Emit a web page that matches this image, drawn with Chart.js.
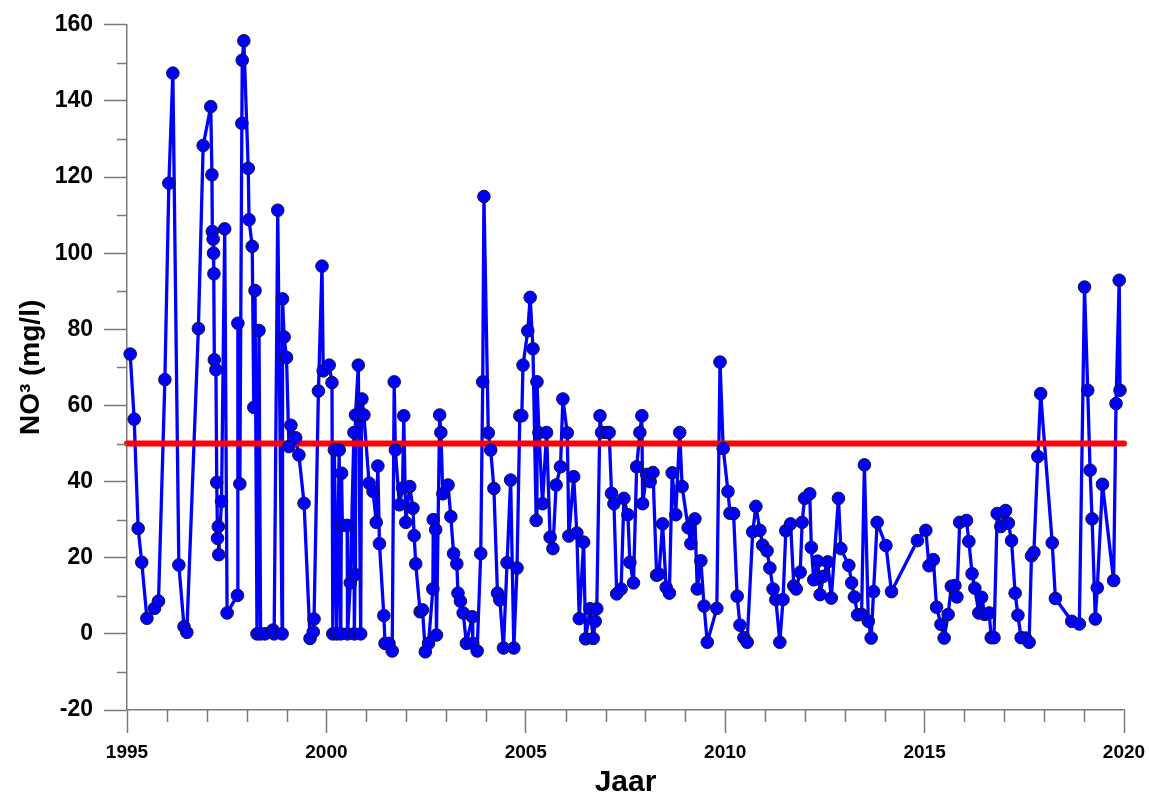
<!DOCTYPE html>
<html>
<head>
<meta charset="utf-8">
<script src="https://cdn.jsdelivr.net/npm/chart.js@4.4.1/dist/chart.umd.min.js"></script>
<style>
  html, body { margin: 0; padding: 0; background: #ffffff; }
  #wrap { width: 1149px; height: 801px; }
</style>
</head>
<body>
<div id="wrap"><canvas id="c" width="1149" height="801"></canvas></div>
<script>
// Sampling dates (decimal years) and measured nitrate (mg/l)
const sampleYears = [
  1995.08, 1995.18, 1995.28, 1995.37, 1995.50, 1995.69, 1995.79, 1995.95,
  1996.05, 1996.15, 1996.30, 1996.43, 1996.50, 1996.79, 1996.91,
  1997.10, 1997.13, 1997.14, 1997.16, 1997.17, 1997.18, 1997.19, 1997.23,
  1997.25, 1997.27, 1997.29, 1997.30, 1997.37, 1997.45, 1997.51, 1997.77,
  1997.78, 1997.83, 1997.88, 1997.89, 1997.93,
  1998.04, 1998.06, 1998.14, 1998.18, 1998.21, 1998.26, 1998.31, 1998.35,
  1998.46, 1998.66, 1998.69, 1998.78, 1998.89, 1998.90, 1998.94,
  1999.00, 1999.06, 1999.11, 1999.23, 1999.31, 1999.44, 1999.59, 1999.67,
  1999.69, 1999.80, 1999.89, 1999.92,
  2000.07, 2000.14, 2000.16, 2000.20, 2000.26, 2000.32, 2000.36, 2000.38,
  2000.40, 2000.52, 2000.53, 2000.60, 2000.69, 2000.70, 2000.72, 2000.73,
  2000.80, 2000.86, 2000.88, 2000.89, 2000.94,
  2001.07, 2001.17, 2001.25, 2001.29, 2001.33, 2001.44, 2001.47, 2001.57,
  2001.65, 2001.70, 2001.73, 2001.83, 2001.91, 2001.94, 2001.99,
  2002.09, 2002.17, 2002.20, 2002.24, 2002.35, 2002.41, 2002.48, 2002.56,
  2002.67, 2002.68, 2002.74, 2002.76, 2002.84, 2002.87, 2002.92,
  2003.05, 2003.12, 2003.19, 2003.27, 2003.30, 2003.36, 2003.43, 2003.51,
  2003.66, 2003.67, 2003.78, 2003.87, 2003.92, 2003.95,
  2004.06, 2004.12, 2004.20, 2004.29, 2004.35, 2004.44, 2004.53, 2004.62,
  2004.70, 2004.78, 2004.85, 2004.90, 2004.93,
  2005.05, 2005.11, 2005.18, 2005.26, 2005.28, 2005.33, 2005.42, 2005.52,
  2005.61, 2005.68, 2005.76, 2005.87, 2005.93,
  2006.04, 2006.08, 2006.20, 2006.28, 2006.34, 2006.45, 2006.50, 2006.61,
  2006.69, 2006.74, 2006.78, 2006.86, 2006.90,
  2007.03, 2007.09, 2007.15, 2007.21, 2007.28, 2007.39, 2007.46, 2007.56,
  2007.61, 2007.70, 2007.78, 2007.86, 2007.91, 2007.93,
  2008.03, 2008.12, 2008.19, 2008.28, 2008.34, 2008.43, 2008.52, 2008.60,
  2008.67, 2008.76, 2008.86, 2008.92,
  2009.07, 2009.14, 2009.24, 2009.30, 2009.39, 2009.47, 2009.55, 2009.79,
  2009.87, 2009.95,
  2010.07, 2010.12, 2010.21, 2010.30, 2010.37, 2010.47, 2010.55, 2010.69,
  2010.77, 2010.87, 2010.94,
  2011.05, 2011.12, 2011.20, 2011.27, 2011.37, 2011.45, 2011.52, 2011.64,
  2011.72, 2011.78, 2011.88, 2011.93, 2011.99,
  2012.12, 2012.16, 2012.22, 2012.32, 2012.38, 2012.46, 2012.57, 2012.66,
  2012.84, 2012.90,
  2013.10, 2013.17, 2013.24, 2013.32, 2013.42, 2013.49, 2013.59, 2013.66,
  2013.72, 2013.81,
  2014.03, 2014.17, 2014.82,
  2015.03, 2015.11, 2015.22, 2015.30, 2015.41, 2015.49, 2015.59, 2015.67,
  2015.76, 2015.81, 2015.88,
  2016.05, 2016.11, 2016.19, 2016.26, 2016.36, 2016.43, 2016.51, 2016.62,
  2016.67, 2016.74, 2016.82, 2016.91,
  2017.03, 2017.10, 2017.18, 2017.27, 2017.34, 2017.42, 2017.53, 2017.62,
  2017.68, 2017.74, 2017.84, 2017.91,
  2018.20, 2018.28, 2018.69, 2018.88,
  2019.01, 2019.09, 2019.15, 2019.20, 2019.28, 2019.33, 2019.46, 2019.74,
  2019.80, 2019.88, 2019.90
];

const no3Values = [
  73.5, 56.4, 27.7, 18.8, 4.1, 6.7, 8.6, 66.8,
  118.4, 147.3, 18.1, 1.9, 0.4, 80.2, 128.3,
  138.5, 120.6, 105.7, 103.7, 100.0, 94.6, 72.0, 69.4,
  39.8, 25.1, 28.2, 20.8, 34.8, 106.4, 5.5, 10.1,
  81.6, 39.4, 134.1, 150.7, 155.8,
  122.3, 108.8, 101.8, 59.5, 90.2, 0.0, 79.7, 0.0,
  0.0, 1.0, 0.0, 111.3, 0.0, 88.0, 78.0,
  72.6, 49.2, 54.8, 51.5, 47.0, 34.3, -1.2, 0.5,
  3.9, 63.8, 96.6, 69.1,
  70.6, 66.0, 0.0, 48.3, 0.0, 48.3, 0.0, 42.2,
  28.5, 28.5, 0.0, 13.4, 52.9, 0.0, 15.6, 57.5,
  70.6, 0.0, 57.5, 61.7, 57.5,
  39.6, 37.4, 29.3, 44.1, 23.7, 4.8, -2.5, -2.5,
  -4.5, 66.2, 48.3, 33.9, 38.3, 57.3, 29.3,
  38.7, 33.0, 25.8, 18.4, 5.8, 6.3, -4.7, -2.5,
  11.8, 30.0, 27.4, -0.3, 57.5, 52.9, 36.8,
  39.1, 30.8, 21.1, 18.4, 10.7, 8.6, 5.5, -2.5,
  4.5, -2.5, -4.5, 21.1, 66.2, 114.9,
  52.8, 48.3, 38.2, 10.7, 8.9, -3.7, 18.7, 40.4,
  -3.7, 17.3, 57.3, 57.3, 70.6,
  79.6, 88.4, 74.9, 29.8, 66.2, 52.8, 34.2, 52.9,
  25.4, 22.4, 39.1, 43.9, 61.7,
  52.8, 25.7, 41.3, 26.5, 4.0, 24.1, -1.3, 6.6,
  -1.2, 3.3, 6.6, 57.3, 52.9,
  52.9, 52.9, 36.9, 34.2, 10.5, 11.8, 35.6, 31.3,
  18.8, 13.4, 43.9, 52.9, 57.3, 34.2,
  41.9, 40.0, 42.4, 15.4, 15.7, 28.9, 12.2, 10.7,
  42.3, 31.3, 52.9, 38.7,
  27.9, 23.7, 30.2, 11.8, 19.2, 7.3, -2.2, 6.7,
  71.4, 48.7,
  37.4, 31.7, 31.6, 9.9, 2.3, -1.0, -2.2, 26.8,
  33.5, 27.2, 23.3,
  21.8, 17.3, 11.8, 9.0, -2.2, 9.0, 27.1, 28.9,
  12.6, 11.8, 16.2, 29.3, 35.6,
  36.8, 22.7, 14.2, 19.1, 10.3, 15.1, 18.9, 9.4,
  35.6, 22.4,
  18.0, 13.4, 9.7, 5.0, 5.1, 44.4, 3.3, -1.1,
  11.1, 29.3,
  23.2, 11.1, 24.5,
  27.2, 17.9, 19.5, 7.0, 2.5, -1.1, 5.1, 12.5,
  12.7, 9.7, 29.3,
  29.8, 24.3, 15.8, 12.0, 5.5, 9.6, 5.1, 5.5,
  -1.0, -1.0, 31.6, 28.2,
  32.4, 29.1, 24.5, 10.7, 4.9, -1.0, -1.1, -2.2,
  20.5, 21.4, 46.6, 63.1,
  23.9, 9.3, 3.3, 2.6,
  91.1, 64.0, 43.0, 30.2, 3.9, 12.1, 39.3, 14.0,
  60.5, 92.9, 64.0
];

// Standard for nitrate in groundwater
const limitValue = 50;
const limitSpan = [1995, 2020];

// Axis ranges and labelled ticks
const xRange = [1995, 2020];
const xLabelYears = [1995, 2000, 2005, 2010, 2015, 2020];
const yRange = [-20, 160];
const yLabelValues = [-20, 0, 20, 40, 60, 80, 100, 120, 140, 160];

const axisColor = '#7a7a7a';
const seriesBlue = '#0000ff';

const points = sampleYears.map((t, i) => ({ x: t, y: no3Values[i] }));
const limitLine = limitSpan.map(t => ({ x: t, y: limitValue }));

// Short unlabelled ticks between the labelled ones
const minorTicks = {
  id: 'minorTicks',
  afterDraw(chart) {
    const { ctx, scales: { x, y } } = chart;
    ctx.save();
    ctx.strokeStyle = axisColor;
    ctx.lineWidth = 1.5;
    ctx.beginPath();
    for (let v = xRange[0]; v <= xRange[1]; v += 1) {
      if (xLabelYears.includes(v)) continue;
      const px = Math.round(x.getPixelForValue(v)) + 0.5;
      ctx.moveTo(px, x.top);
      ctx.lineTo(px, x.top + 12);
    }
    for (let v = yRange[0]; v <= yRange[1]; v += 10) {
      if (yLabelValues.includes(v)) continue;
      const py = Math.round(y.getPixelForValue(v)) + 0.5;
      ctx.moveTo(y.right - 10, py);
      ctx.lineTo(y.right, py);
    }
    ctx.stroke();
    ctx.restore();
  }
};

new Chart(document.getElementById('c'), {
  type: 'line',
  data: {
    datasets: [
      {
        // markers on top
        data: points,
        showLine: false,
        pointRadius: 6.3,
        pointBackgroundColor: seriesBlue,
        pointBorderColor: '#14143a',
        pointBorderWidth: 1,
        clip: false
      },
      {
        data: limitLine,
        borderColor: '#ff0000',
        borderWidth: 6,
        borderCapStyle: 'round',
        pointRadius: 0,
        clip: false
      },
      {
        data: points,
        borderColor: seriesBlue,
        borderWidth: 3.3,
        borderJoinStyle: 'round',
        pointRadius: 0,
        tension: 0,
        clip: false
      }
    ]
  },
  options: {
    responsive: false,
    animation: false,
    devicePixelRatio: 1,
    layout: { padding: { top: 22, right: 25, left: 0, bottom: 0 } },
    plugins: { legend: { display: false }, tooltip: { enabled: false } },
    scales: {
      x: {
        type: 'linear',
        position: 'bottom',
        min: xRange[0],
        max: xRange[1],
        afterFit(scale) {
          scale.height = 91;
          scale.paddingLeft = 0;
          scale.paddingRight = 0;
        },
        border: { display: true, color: axisColor, width: 1.5 },
        grid: {
          drawOnChartArea: false,
          drawTicks: true,
          tickLength: 23,
          tickWidth: 1.5,
          tickColor: ctx => xLabelYears.includes(ctx.tick && ctx.tick.value) ? axisColor : 'rgba(0,0,0,0)'
        },
        ticks: {
          stepSize: 1,
          autoSkip: false,
          maxRotation: 0,
          padding: 8,
          color: '#000',
          font: { family: "'Liberation Sans', Arial, sans-serif", weight: 'bold', size: 19 },
          callback: v => xLabelYears.includes(v) ? String(v) : ''
        },
        title: {
          display: true,
          text: 'Jaar',
          color: '#000',
          padding: { top: 0, bottom: 0 },
          font: { family: "'Liberation Sans', Arial, sans-serif", weight: 'bold', size: 30 }
        }
      },
      y: {
        type: 'linear',
        min: yRange[0],
        max: yRange[1],
        afterFit(scale) { scale.width = 127; },
        border: { display: true, color: axisColor, width: 1.5 },
        grid: {
          drawOnChartArea: false,
          drawTicks: true,
          tickLength: 23,
          tickWidth: 1.5,
          tickColor: ctx => yLabelValues.includes(ctx.tick && ctx.tick.value) ? axisColor : 'rgba(0,0,0,0)'
        },
        ticks: {
          stepSize: 10,
          padding: 11,
          color: '#000',
          font: { family: "'Liberation Sans', Arial, sans-serif", weight: 'bold', size: 23 },
          callback: v => yLabelValues.includes(v) ? String(v) : ''
        },
        title: {
          display: true,
          text: 'NO³ (mg/l)',
          color: '#000',
          padding: { top: 14, bottom: 0 },
          font: { family: "'Liberation Sans', Arial, sans-serif", weight: 'bold', size: 28 }
        }
      }
    }
  },
  plugins: [minorTicks]
});
</script>
</body>
</html>
